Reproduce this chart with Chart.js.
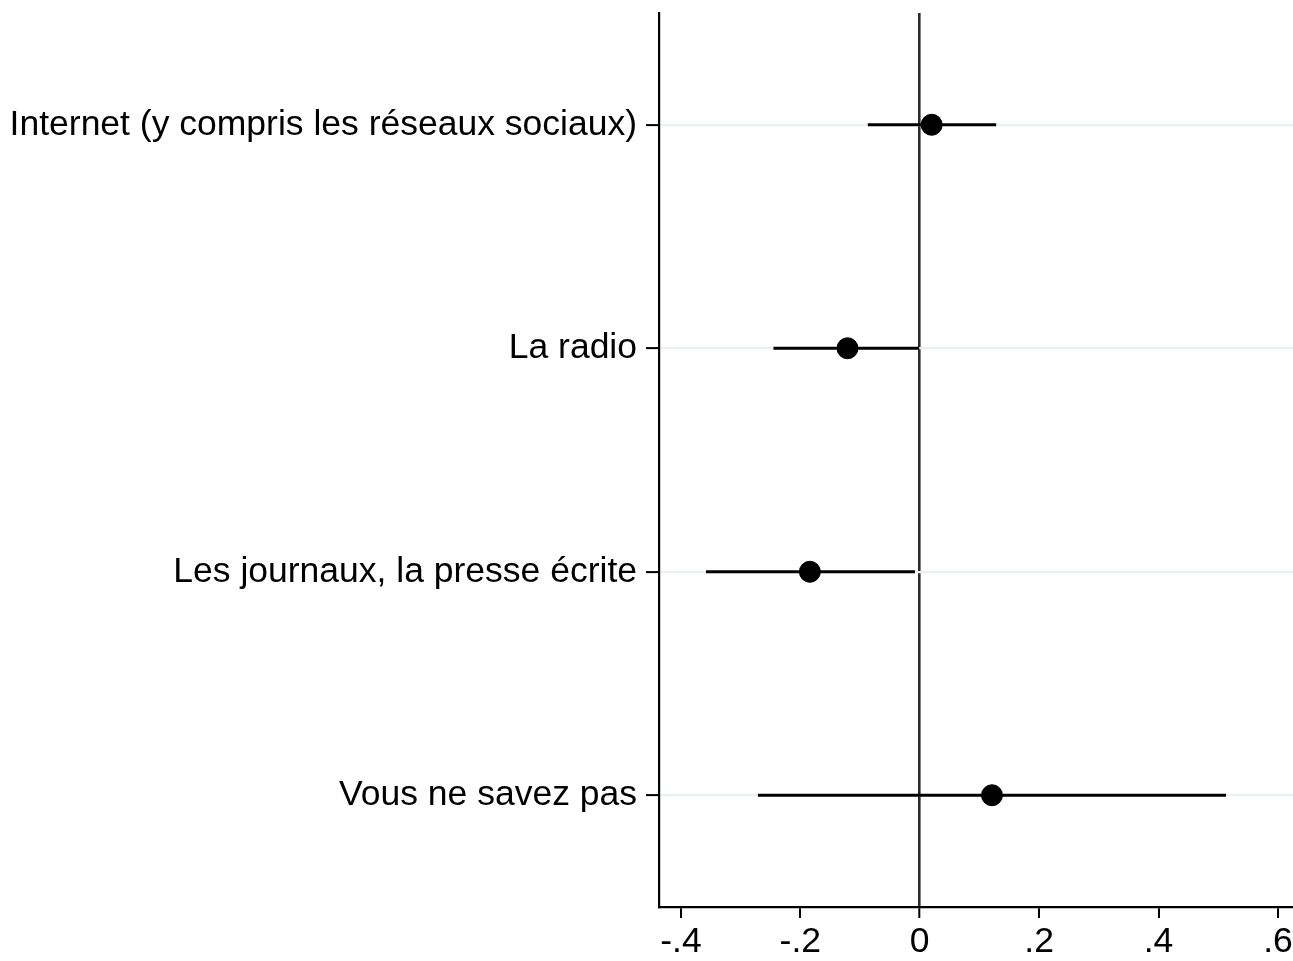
<!DOCTYPE html>
<html>
<head>
<meta charset="utf-8">
<script src="https://cdn.jsdelivr.net/npm/chart.js@4/dist/chart.umd.min.js"></script>
<style>
html,body{margin:0;padding:0;background:#fff;overflow:hidden;}
#wrap{width:1305px;height:961px;position:relative;}
</style>
</head>
<body>
<div id="wrap"><canvas id="c"></canvas></div>
<script>
const categories = [
  "Internet (y compris les réseaux sociaux)",
  "La radio",
  "Les journaux, la presse écrite",
  "Vous ne savez pas"
];
const estimates = [0.020, -0.121, -0.184, 0.121];
const ciLow = [-0.087, -0.245, -0.358, -0.271];
const ciHigh = [0.128, -0.001, -0.008, 0.513];
const xTicks = [-0.4, -0.2, 0, 0.2, 0.4, 0.6];
const xTickLabels = ["-.4", "-.2", "0", ".2", ".4", ".6"];

const FONT = "'Liberation Sans', Arial, Helvetica, sans-serif";
const ZERO = {left: 0, top: 0, right: 0, bottom: 0};

const datasets = [];
categories.forEach((c, i) => {
  datasets.push({
    type: 'line',
    data: [{x: ciLow[i], y: i + 1}, {x: ciHigh[i], y: i + 1}],
    borderColor: '#000',
    borderWidth: 3,
    pointRadius: 0,
    fill: false,
    order: 2
  });
});
datasets.push({
  type: 'scatter',
  data: estimates.map((v, i) => ({x: v, y: i + 1})),
  backgroundColor: '#000',
  borderColor: '#000',
  pointRadius: 10.5,
  pointHoverRadius: 10.5,
  order: 1
});

function noPad(s) {
  s.paddingLeft = 0; s.paddingRight = 0; s.paddingTop = 0; s.paddingBottom = 0;
  s.getPadding = () => ZERO;
}

new Chart(document.getElementById('c'), {
  type: 'scatter',
  data: { datasets },
  options: {
    responsive: true,
    maintainAspectRatio: false,
    animation: false,
    layout: { padding: { top: 13, right: 0, left: 0, bottom: 0 } },
    plugins: { legend: { display: false }, tooltip: { enabled: false } },
    scales: {
      x: {
        type: 'linear',
        min: -0.4367,
        max: 0.626,
        afterBuildTicks: (s) => { s.ticks = xTicks.map(v => ({value: v})); },
        afterFit: (s) => { s.height = 54; noPad(s); },
        ticks: {
          callback: (v, idx) => xTickLabels[idx],
          color: '#000',
          font: { family: FONT, size: 35.5 },
          padding: 3,
          maxRotation: 0,
          autoSkip: false
        },
        grid: {
          color: (ctx) => (ctx.tick && ctx.tick.value === 0) ? '#2b2b2b' : 'rgba(0,0,0,0)',
          lineWidth: (ctx) => (ctx.tick && ctx.tick.value === 0) ? 2.6 : 0,
          tickColor: '#000',
          tickLength: 11,
          tickWidth: 2,
          drawTicks: true
        },
        border: { display: true, color: '#000', width: 2.2 }
      },
      y: {
        type: 'linear',
        min: 0.5,
        max: 4.5,
        reverse: true,
        afterBuildTicks: (s) => { s.ticks = categories.map((c, i) => ({value: i + 1})); },
        afterFit: (s) => { s.width = 659; noPad(s); },
        ticks: {
          callback: (v) => categories[Math.round(v) - 1] || '',
          color: '#000',
          font: { family: FONT, size: 35.5 },
          padding: 9,
          autoSkip: false
        },
        grid: {
          color: '#e9f1f3',
          lineWidth: 2.2,
          tickColor: '#000',
          tickLength: 13,
          tickWidth: 2
        },
        border: { display: true, color: '#000', width: 2.2 }
      }
    }
  }
});
</script>
</body>
</html>
